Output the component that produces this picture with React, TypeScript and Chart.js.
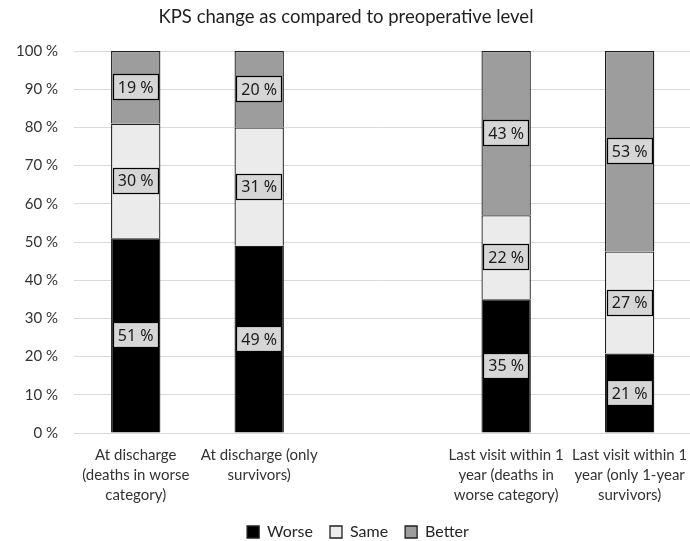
import { useEffect, useRef } from "react";
import { Chart, registerables } from "chart.js";

Chart.register(...registerables);

// Categories (the empty one separates the two groups of bars)
const categories: string[][] = [
  ["At discharge", "(deaths in worse", "category)"],
  ["At discharge (only", "survivors)"],
  [""],
  ["Last visit within 1", "year (deaths in", "worse category)"],
  ["Last visit within 1", "year (only 1-year", "survivors)"],
];

// Percentages per KPS outcome
const worse: (number | null)[] = [51, 49, null, 35, 21];
const same: (number | null)[] = [30, 31, null, 22, 27];
const better: (number | null)[] = [19, 20, null, 43, 53];

const seriesNames = ["Worse", "Same", "Better"];
const seriesColors = ["#000000", "#ebebeb", "#9d9d9d"];

const yTickValues = [0, 10, 20, 30, 40, 50, 60, 70, 80, 90, 100];

const FONT = "Lato, 'Noto Sans', sans-serif";

// 100% stacking: each bar's parts are scaled so they fill the column
const totals = worse.map((w, i) =>
  w == null ? null : (w ?? 0) + (same[i] ?? 0) + (better[i] ?? 0)
);
const toShare = (arr: (number | null)[]) =>
  arr.map((v, i) => (v == null || totals[i] == null ? null : (v / (totals[i] as number)) * 100));

const valueLabels = {
  id: "valueLabels",
  afterDatasetsDraw(chart: Chart) {
    const ctx = chart.ctx;
    chart.data.datasets.forEach((ds: any, di: number) => {
      const meta = chart.getDatasetMeta(di);
      meta.data.forEach((el: any, i: number) => {
        const raw = ds.rawValues[i];
        if (raw == null) return;
        const cx = el.x;
        const cy = (el.y + el.base) / 2;
        const w = 46;
        const h = 26;
        ctx.save();
        ctx.fillStyle = "#d6d6d6";
        ctx.fillRect(Math.round(cx - w / 2), Math.round(cy - h / 2), w, h);
        ctx.strokeStyle = "#000000";
        ctx.lineWidth = 1.2;
        ctx.strokeRect(Math.round(cx - w / 2) + 0.5, Math.round(cy - h / 2) + 0.5, w - 1, h - 1);
        ctx.fillStyle = "#1a1a1a";
        ctx.font = "16px 'Noto Sans', sans-serif";
        ctx.textAlign = "center";
        ctx.textBaseline = "middle";
        ctx.fillText(`${raw} %`, cx, cy + 1);
        ctx.restore();
      });
    });
  },
};

// Nudge the legend row a little to the right of the canvas centre
const legendShift = {
  id: "legendShift",
  afterLayout(chart: any) {
    if (chart.legend) chart.legend.left += 24;
  },
};

export default function App() {
  const canvasRef = useRef<HTMLCanvasElement | null>(null);

  useEffect(() => {
    const canvas = canvasRef.current;
    if (!canvas) return;
    const raws = [worse, same, better];
    const chart = new Chart(canvas, {
      type: "bar",
      data: {
        labels: categories,
        datasets: raws.map((arr, k) => ({
          label: seriesNames[k],
          data: toShare(arr),
          rawValues: arr,
          backgroundColor: seriesColors[k],
          borderColor: "#1f1f1f",
          borderWidth: 1.3,
          categoryPercentage: 1,
          barPercentage: 0.4,
        })) as any,
      },
      options: {
        responsive: false,
        animation: false,
        layout: { padding: { top: 0, right: 8, bottom: 0, left: 0 } },
        plugins: {
          title: {
            display: true,
            text: "KPS change as compared to preoperative level",
            color: "#1f1f1f",
            font: { family: FONT, size: 18.5, weight: "normal", lineHeight: 1.2 },
            padding: { top: 6, bottom: 22.8 },
          },
          legend: {
            position: "bottom",
            labels: {
              color: "#262626",
              font: { family: FONT, size: 16 },
              boxWidth: 12,
              boxHeight: 12,
              padding: 17,
            },
          },
          tooltip: { enabled: false },
        },
        scales: {
          x: {
            stacked: true,
            grid: { display: false, drawTicks: false },
            border: { display: false },
            ticks: {
              color: "#333333",
              font: { family: FONT, size: 15, lineHeight: 1.33 },
              padding: 12,
              maxRotation: 0,
              autoSkip: false,
            },
            afterFit(scale: any) {
              scale.height = 74;
            },
          },
          y: {
            stacked: true,
            min: 0,
            max: 100,
            afterBuildTicks(scale: any) {
              scale.ticks = yTickValues.map((v) => ({ value: v }));
            },
            grid: { color: "#d9d9d9", lineWidth: 1, drawTicks: false },
            border: { display: false },
            ticks: {
              color: "#333333",
              font: { family: FONT, size: 15 },
              padding: 16,
              callback: (v: any) => `${v} %`,
            },
            afterFit(scale: any) {
              scale.width = 74;
            },
          },
        },
      },
      plugins: [valueLabels, legendShift],
    });
    return () => chart.destroy();
  }, []);

  return (
    <div
      style={{
        position: "fixed",
        left: 0,
        top: 0,
        width: 690,
        height: 541,
        overflow: "hidden",
        background: "#ffffff",
      }}
    >
      <canvas ref={canvasRef} width={700} height={550} style={{ display: "block" }} />
    </div>
  );
}
